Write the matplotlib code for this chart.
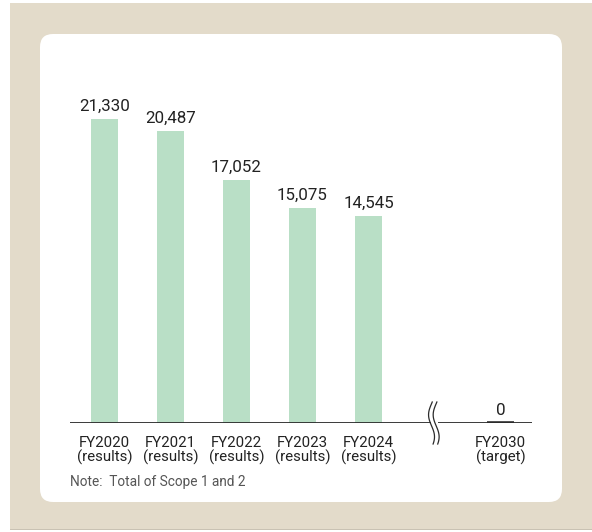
import numpy as np
import matplotlib.pyplot as plt
from matplotlib.patches import Rectangle, FancyBboxPatch

plt.rcParams['font.family'] = ['Roboto', 'DejaVu Sans']

# Data
years = ['FY2020', 'FY2021', 'FY2022', 'FY2023', 'FY2024', 'FY2030']
kinds = ['results', 'results', 'results', 'results', 'results', 'target']
values = [21330, 20487, 17052, 15075, 14545, 0]
positions = [0, 1, 2, 3, 4, 6]
break_pos = 5

W, H = 592, 532
fig = plt.figure(figsize=(W / 100, H / 100), dpi=100)
fig.patch.set_facecolor('white')

# beige frame and white rounded card
fig.patches.append(Rectangle((10 / W, 3 / H), (W - 10) / W, (529 - 3) / H,
                             transform=fig.transFigure, facecolor='#e3dbca',
                             edgecolor='none', zorder=0))
fig.patches.append(Rectangle((10 / W, 2 / H), (W - 10) / W, 1.2 / H,
                             transform=fig.transFigure, facecolor='#c9c2b3',
                             edgecolor='none', zorder=0))
fig.patches.append(FancyBboxPatch((40 / W, (H - 502) / H), (562 - 40) / W, (502 - 34) / H,
                                  boxstyle='round,pad=0,rounding_size=0.022',
                                  transform=fig.transFigure, facecolor='white',
                                  edgecolor='none', zorder=1, mutation_aspect=W / H))

# axes: baseline at y=423px, left 70px, right 532px
left, right = 70, 532
base, top = 423, 80
ax = fig.add_axes([left / W, (H - base) / H, (right - left) / W, (base - top) / H])
ax.set_facecolor('none')
ax.set_zorder(2)
px_per_unit = 304 / 21330
ax.set_ylim(0, (base - top) / px_per_unit)
ax.set_xlim((left - 104.5) / 66, (right - 104.5) / 66)
for s in ax.spines.values():
    s.set_visible(False)
ax.tick_params(left=False, labelleft=False, bottom=False)

green = '#b9dfc6'
dark = '#2b2b2b'
for x, v in zip(positions, values):
    if v > 0:
        ax.bar(x, v, width=0.41, color=green, zorder=2)
    else:
        ax.hlines(v, x - 0.2, x + 0.2, color=dark, lw=2.6, zorder=4)
    ax.annotate(f'{v:,}', (x, v), xytext=(0, 3.5), textcoords='offset points',
                ha='center', va='bottom', fontsize=12.2, color='#222222')

# baseline with a gap for the break
gap = 0.06
x0, x1 = ax.get_xlim()
ax.plot([x0, break_pos - gap], [0, 0], color=dark, lw=1.3, solid_capstyle='butt', zorder=3)
ax.plot([break_pos + gap, x1], [0, 0], color=dark, lw=1.3, solid_capstyle='butt', zorder=3)

# wavy break marks
t = np.linspace(-1, 1, 60)
yy = t * 21 / px_per_unit
for dx in (-0.035, 0.035):
    xx = break_pos - 0.01 + dx + 0.045 * np.sin(t * np.pi * 0.95 + 0.4) * -1
    ax.plot(xx, yy, color=dark, lw=0.9, clip_on=False, zorder=4)

ax.set_xticks(positions)
ax.set_xticklabels([f'{y}\n({k})' for y, k in zip(years, kinds)],
                   fontsize=10.8, color='#222222', linespacing=0.95)
ax.tick_params(axis='x', pad=6)

fig.text(70 / W, (H - 482) / H, 'Note:  Total of Scope 1 and 2', fontsize=9.8,
         color='#555555', va='center', ha='left')

fig.savefig('out.png', dpi=100)
